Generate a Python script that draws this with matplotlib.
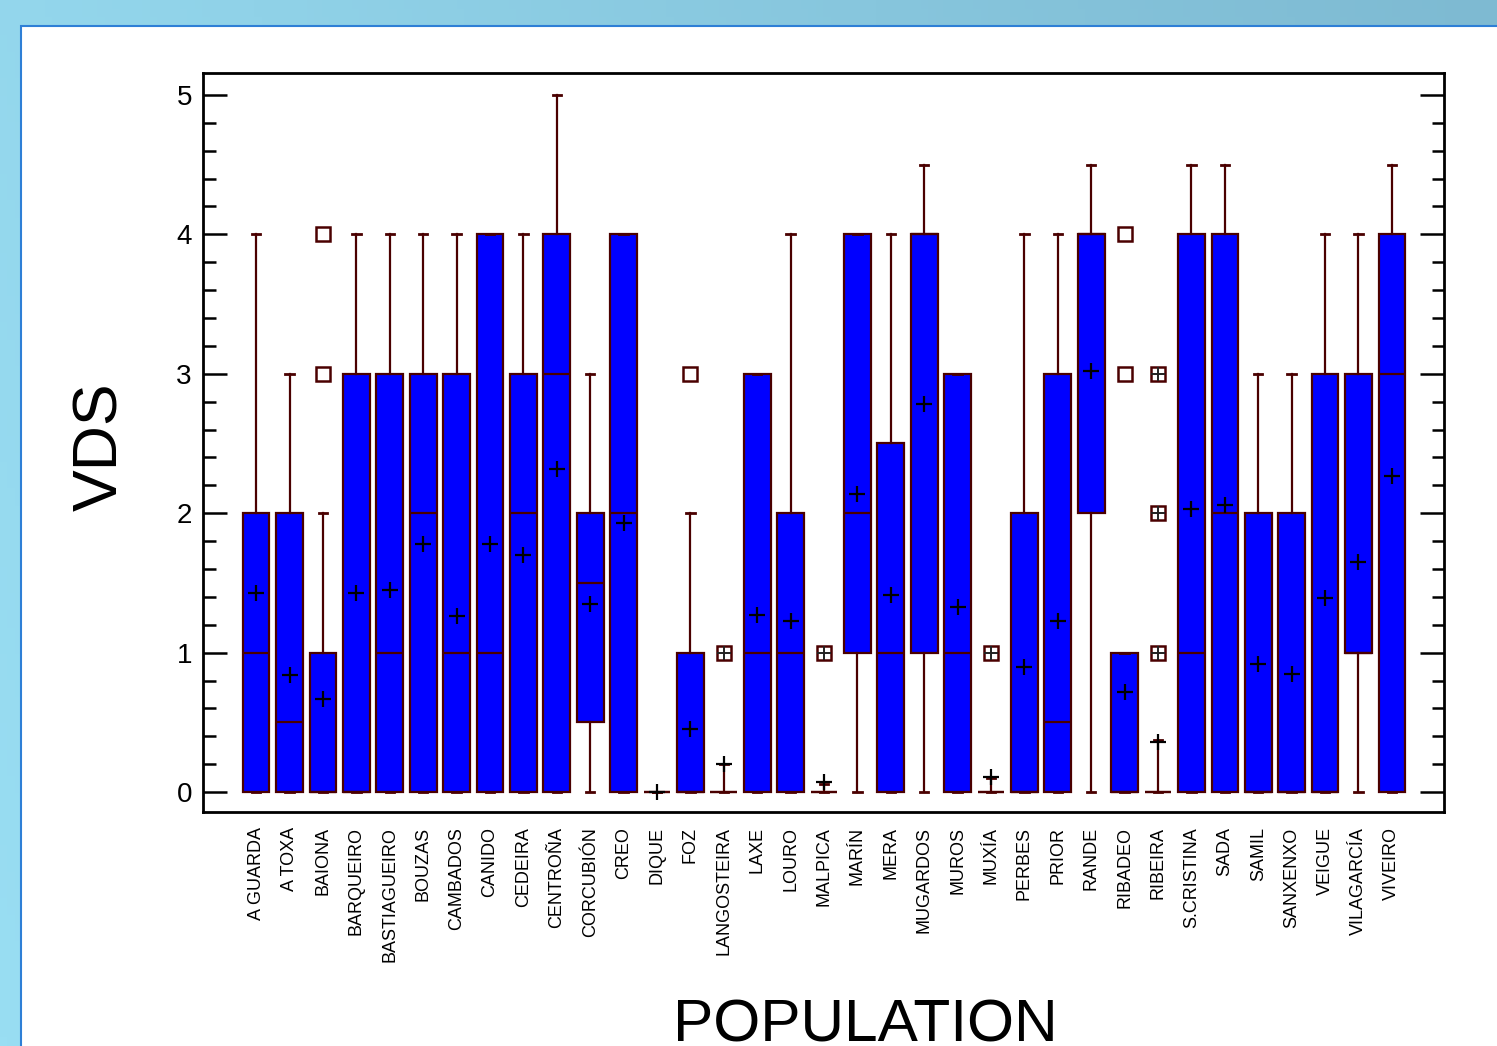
import numpy as np
import matplotlib.pyplot as plt
from matplotlib.patches import Rectangle

plt.rcParams['font.family'] = ['Liberation Sans', 'DejaVu Sans']

# VDS per population: box statistics read per site
populations = ["A GUARDA", "A TOXA", "BAIONA", "BARQUEIRO", "BASTIAGUEIRO", "BOUZAS",
               "CAMBADOS", "CANIDO", "CEDEIRA", "CENTROÑA", "CORCUBIÓN", "CREO", "DIQUE",
               "FOZ", "LANGOSTEIRA", "LAXE", "LOURO", "MALPICA", "MARÍN", "MERA",
               "MUGARDOS", "MUROS", "MUXÍA", "PERBES", "PRIOR", "RANDE", "RIBADEO",
               "RIBEIRA", "S.CRISTINA", "SADA", "SAMIL", "SANXENXO", "VEIGUE",
               "VILAGARCÍA", "VIVEIRO"]
whislo = [0] * 35
q1 = [0, 0, 0, 0, 0, 0, 0, 0, 0, 0, 0.5, 0, 0, 0, 0, 0, 0, 0, 1, 0,
      1, 0, 0, 0, 0, 2, 0, 0, 0, 0, 0, 0, 0, 1, 0]
med = [1, 0.5, 0, 0, 1, 2, 1, 1, 2, 3, 1.5, 2, 0, 0, 0, 1, 1, 0, 2, 1,
       4, 1, 0, 0, 0.5, 4, 0, 0, 1, 2, 0, 0, 0, 1, 3]
q3 = [2, 2, 1, 3, 3, 3, 3, 4, 3, 4, 2, 4, 0, 1, 0, 3, 2, 0, 4, 2.5,
      4, 3, 0, 2, 3, 4, 1, 0, 4, 4, 2, 2, 3, 3, 4]
whishi = [4, 3, 2, 4, 4, 4, 4, 4, 4, 5, 3, 4, 0, 2, 0.2, 3, 4, 0.06, 4, 4,
          4.5, 3, 0.1, 4, 4, 4.5, 1, 0.37, 4.5, 4.5, 3, 3, 4, 4, 4.5]
means = [1.43, 0.84, 0.67, 1.43, 1.45, 1.78, 1.26, 1.78, 1.70, 2.32, 1.35, 1.93, 0.0,
         0.45, 0.20, 1.27, 1.23, 0.07, 2.14, 1.41, 2.78, 1.33, 0.11, 0.90, 1.23, 3.02,
         0.72, 0.36, 2.03, 2.06, 0.92, 0.85, 1.39, 1.65, 2.27]

# outside points (hollow squares) and far outside points (squares with plus)
outside = {"BAIONA": [3, 4], "FOZ": [3], "RIBADEO": [3, 4]}
far_outside = {"LANGOSTEIRA": [1], "MALPICA": [1], "MUXÍA": [1], "RIBEIRA": [1, 2, 3]}

W, H = 1497, 1046
fig = plt.figure(figsize=(W / 100, H / 100), dpi=100)

# light blue backdrop with a white panel on top
bg = fig.add_axes([0, 0, 1, 1], zorder=-10)
gx = np.linspace(0, 1, 200)
gy = np.linspace(0, 1, 120)[:, None]
c0 = np.array([153, 222, 243]) / 255
c1 = np.array([126, 186, 210]) / 255
t = (gx[None, :] * 0.8 + (1 - gy) * 0.2)[..., None]
grad = c0 * (1 - t) + c1 * t
bg.imshow(grad, aspect='auto', extent=[0, 1, 0, 1], origin='upper')
bg.set_axis_off()
fig.patches.append(Rectangle((21 / W, -0.01), 1.0, (H - 26) / H + 0.01,
                             transform=fig.transFigure, facecolor='white',
                             edgecolor='#2e7fd6', linewidth=1.5, zorder=-5))

ax = fig.add_axes([203 / W, 1 - 812 / H, (1444 - 203) / W, (812 - 73) / H])
ax.set_facecolor('white')

pos = np.arange(len(populations))
stats = []
for i, name in enumerate(populations):
    stats.append(dict(label=name, whislo=whislo[i], q1=q1[i], med=med[i], q3=q3[i],
                      whishi=whishi[i], mean=means[i], fliers=[]))

edge = '#4a0000'
ax.bxp(stats, positions=pos, widths=0.8, capwidths=0.25, patch_artist=True,
       showmeans=True, showfliers=False,
       boxprops=dict(facecolor='#0000ff', edgecolor=edge, linewidth=1.6),
       medianprops=dict(color=edge, linewidth=1.6),
       whiskerprops=dict(color=edge, linewidth=1.6),
       capprops=dict(color=edge, linewidth=2.0),
       meanprops=dict(marker='+', markeredgecolor='black', markersize=12,
                      markeredgewidth=1.6, linestyle='none'))

for name, vals in outside.items():
    i = populations.index(name)
    ax.plot([i] * len(vals), vals, 's', mfc='white', mec=edge, ms=10, mew=1.8, zorder=5)
for name, vals in far_outside.items():
    i = populations.index(name)
    ax.plot([i] * len(vals), vals, 's', mfc='white', mec=edge, ms=10, mew=1.8, zorder=5)
    ax.plot([i] * len(vals), vals, '+', mec='#222222', ms=10, mew=1.4, zorder=6)

ax.set_xlim(-1.59, 34 + 1.56)
ax.set_ylim(-0.143, 5.157)
ax.set_xticks(pos)
ax.set_xticklabels(populations, rotation=90, va='top', ha='center', fontsize=13)
ax.tick_params(axis='x', length=0, pad=11)

ax.set_yticks([0, 1, 2, 3, 4, 5])
ax.set_yticks(np.arange(0, 5.01, 0.2), minor=True)
ax.tick_params(axis='y', which='major', direction='in', length=17, width=1.8,
               labelsize=20, pad=8, right=True)
ax.tick_params(axis='y', which='minor', direction='in', length=9, width=1.8, right=True)
for s in ax.spines.values():
    s.set_linewidth(2.0)

fig.text(101 / W, 1 - 447 / H, "VDS", rotation=90, fontsize=45, ha='center', va='center')
fig.text(865 / W, 1 - 1042 / H, "POPULATION", fontsize=43.5, ha='center', va='baseline')

fig.savefig('out.png', dpi=100)
